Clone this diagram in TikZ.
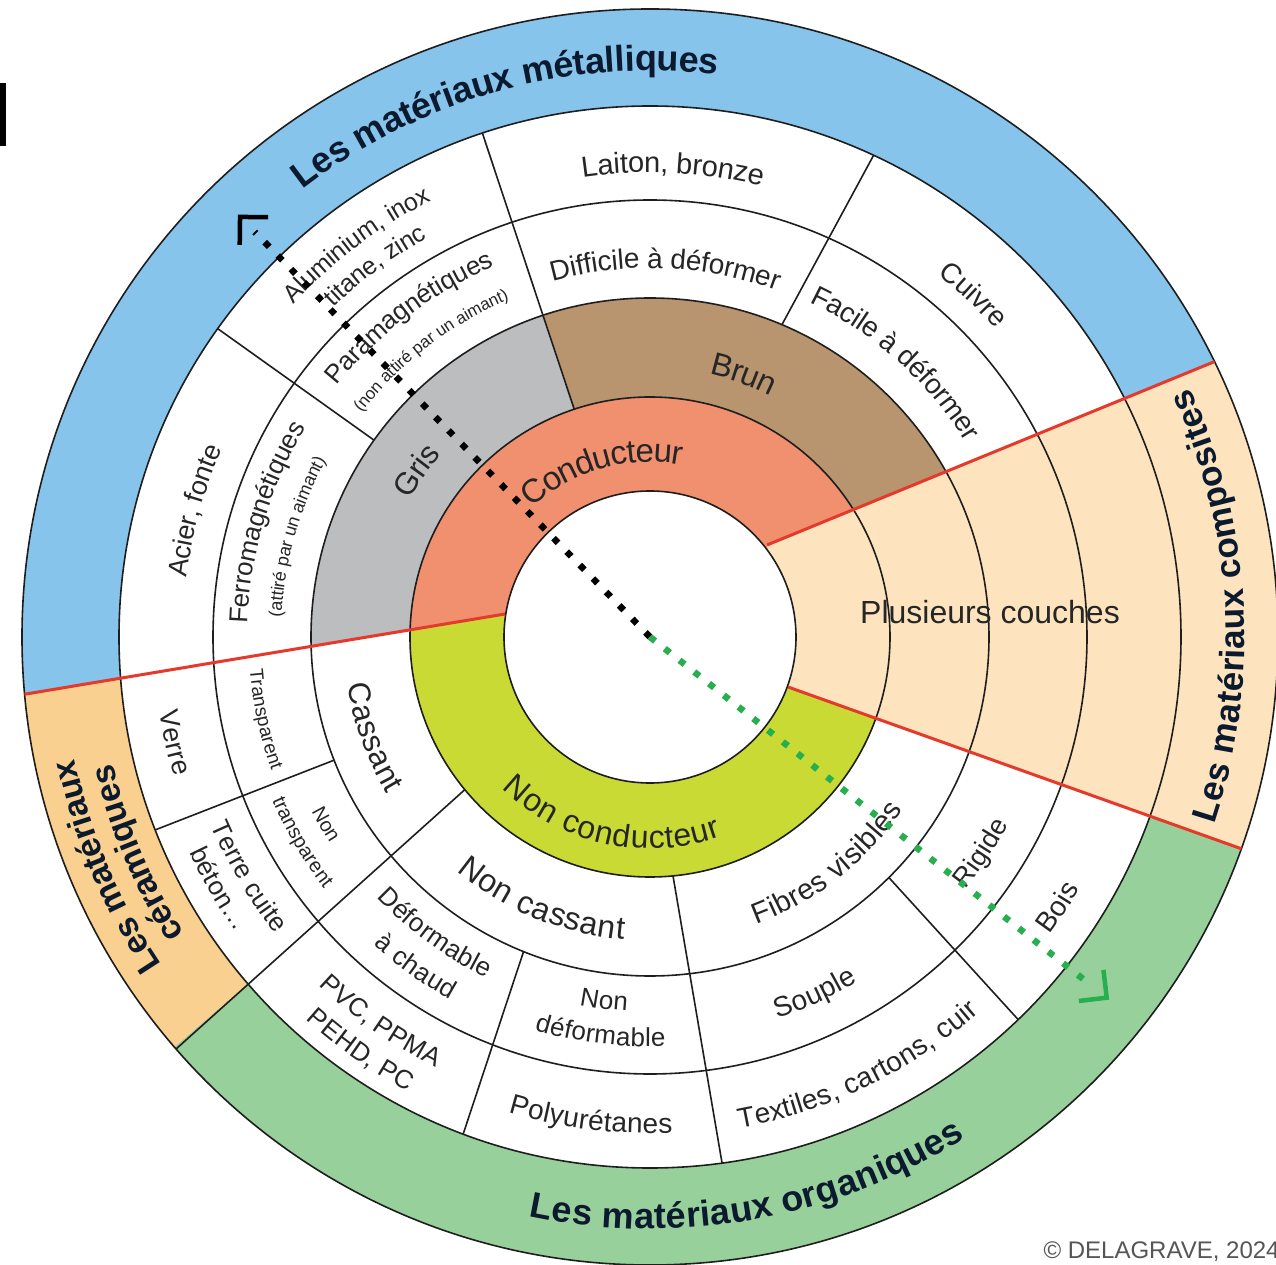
\documentclass[tikz,border=0pt]{standalone}
\usepackage{fontspec}
\setmainfont{Liberation Sans}
\usetikzlibrary{calc,decorations.text}
\definecolor{metal}{HTML}{86C4EC}
\definecolor{compo}{HTML}{FDE4BE}
\definecolor{ceram}{HTML}{F9D08F}
\definecolor{organ}{HTML}{97D09B}
\definecolor{cond}{HTML}{F0906F}
\definecolor{noncond}{HTML}{C9DA34}
\definecolor{brun}{HTML}{B8946F}
\definecolor{gris}{HTML}{BCBDBF}
\definecolor{redc}{HTML}{E5392B}
\definecolor{greenc}{HTML}{27AE4F}
\definecolor{linec}{HTML}{1E1E1E}
\definecolor{txt}{HTML}{262626}
\definecolor{navy}{HTML}{0B1A2E}
\definecolor{copyc}{HTML}{555555}
\newcommand{\mylab}[6]{%
  \pgfmathsetmacro{\myarcA}{#2+#3*70}%
  \pgfmathsetmacro{\myarcB}{#2-#3*70}%
  \pgfmathsetmacro{\myarcR}{-0.33*#4}%
  \path[decorate,decoration={text along path,text align=center,raise=\myarcR pt,
    text={|\fontsize{#4}{#4}\selectfont#5|#6}}]
    (\myarcA:#1) arc[start angle=\myarcA, end angle=\myarcB, radius=#1];%
}
\tikzset{
  ringline/.style={line width=1.6pt, draw=linec},
  divline/.style={line width=1.6pt, draw=linec},
  redline/.style={line width=3pt, draw=redc},
  bdots/.style={line width=6.5pt, draw=black, dash pattern=on 6.5pt off 12.3pt},
  gdots/.style={line width=6.5pt, draw=greenc, dash pattern=on 6.5pt off 12.3pt},
  bchev/.style={line width=4.5pt, draw=black, line join=miter},
  gchev/.style={line width=4.5pt, draw=greenc, line join=miter},
}
\begin{document}
\begin{tikzpicture}[x=1pt,y=1pt]
\useasboundingbox (-650,-628) rectangle (626,637);
\fill[white] (-650,-628) rectangle (626,637);
\coordinate (ctr) at (0,0);
\coordinate (P1a) at (-145,23); \coordinate (P1b) at (-630,-58);
\coordinate (P2a) at (117,92);  \coordinate (P2b) at (566,276);
\coordinate (P3a) at (138,-50); \coordinate (P3b) at (592,-212);
\coordinate (P1e) at ($(P1a)!1.6!(P1b)$);
\coordinate (P2e) at ($(P2a)!1.6!(P2b)$);
\coordinate (P3e) at ($(P3a)!1.6!(P3b)$);
% outer ring
\fill[metal] (ctr) circle (628);
\begin{scope}
  \clip (ctr) circle (628);
  \fill[ceram] (P1a) -- (P1e) -- (200:1100) -- (220.8:1100) -- (ctr) -- cycle;
  \fill[organ] (ctr) -- (220.8:1100) -- (260:1100) -- (300:1100) -- (P3e) -- (P3a) -- cycle;
\end{scope}
\fill[white] (ctr) circle (531);
% ring B
\begin{scope}
  \clip (ctr) circle (339);
  \fill[gris] (P1a) -- (P1e) -- (150:1100) -- (108.4:1100) -- (ctr) -- cycle;
  \fill[brun] (ctr) -- (108.4:1100) -- (80:1100) -- (50:1100) -- (P2e) -- (P2a) -- cycle;
\end{scope}
% ring A
\begin{scope}
  \clip (ctr) circle (240);
  \fill[cond] (ctr) circle (240);
  \fill[noncond] (P1a) -- (P1e) -- (200:1100) -- (270:1100) -- (330:1100) -- (P3e) -- (P3a) -- cycle;
\end{scope}
% composites
\begin{scope}
  \clip (ctr) circle (628);
  \fill[compo] (P2a) -- (P2e) -- (20:1100) -- (0:1100) -- (-20:1100) -- (P3e) -- (P3a) -- cycle;
\end{scope}
\fill[white] (ctr) circle (146);
% circles
\draw[ringline] (ctr) circle (146) (ctr) circle (240) (ctr) circle (339)
  (ctr) circle (437) (ctr) circle (531) (ctr) circle (628);
% dividers
\draw[divline] (108.4:240) -- (108.4:531);
\draw[divline] (144.5:339) -- (144.5:531);
\draw[divline] (67.1:339) -- (65.1:531);
\draw[divline] (201.3:339) -- (201.3:531);
\draw[divline] (219.5:240) -- (221:628);
\draw[divline] (248.1:339) -- (249.4:531);
\draw[divline] (275.5:240) -- (277.8:531);
\draw[divline] (314.8:339) -- (313.9:531);
% red lines
\begin{scope}
  \clip (ctr) circle (628);
  \draw[redline] (P1a) -- (P1e);
  \draw[redline] (P2a) -- (P2e);
  \draw[redline] (P3a) -- (P3e);
\end{scope}
% outer labels
\mylab{578}{105.5}{1}{36}{\bfseries\color{navy}}{Les matériaux métalliques}
\mylab{580}{280.2}{-1}{36}{\bfseries\color{navy}}{Les matériaux organiques}
\mylab{583}{3.2}{-1}{35}{\bfseries\color{navy}}{Les matériaux composites}
\mylab{599}{202.9}{1}{34}{\bfseries\color{navy}}{Les matériaux}
\mylab{563}{202.9}{1}{34}{\bfseries\color{navy}}{céramiques}
% ring D
\mylab{476}{164.5}{1}{27}{\color{txt}}{Acier, fonte}
\mylab{496}{126.8}{1}{25}{\color{txt}}{Aluminium, inox}
\mylab{465}{126.5}{1}{25}{\color{txt}}{titane, zinc}
\mylab{474}{87.2}{1}{29}{\color{txt}}{Laiton, bronze}
\mylab{472}{46.6}{1}{28}{\color{txt}}{Cuivre}
\mylab{487}{192.5}{-1}{27}{\color{txt}}{Verre}
\mylab{469}{210.8}{-1}{26}{\color{txt}}{Terre cuite}
\mylab{500}{210.3}{-1}{26}{\color{txt}}{béton…}
\mylab{472}{235}{-1}{26}{\color{txt}}{PVC, PPMA}
\mylab{506}{235}{-1}{26}{\color{txt}}{PEHD, PC}
\mylab{487}{263}{-1}{28}{\color{txt}}{Polyurétanes}
\mylab{490}{295.8}{-1}{28}{\color{txt}}{Textiles, cartons, cuir}
\mylab{489}{326.5}{-1}{28}{\color{txt}}{Bois}
% ring C
\mylab{411}{163.4}{1}{26}{\color{txt}}{Ferromagnétiques}
\mylab{375}{164.2}{1}{18}{\color{txt}}{(attiré par un aimant)}
\mylab{410}{127}{1}{26}{\color{txt}}{Paramagnétiques}
\mylab{371}{127.4}{1}{17}{\color{txt}}{(non attiré par un aimant)}
\mylab{378}{87.6}{1}{28}{\color{txt}}{Difficile à déformer}
\mylab{380}{48.1}{1}{28}{\color{txt}}{Facile à déformer}
\mylab{395}{192}{-1}{19}{\color{txt}}{Transparent}
\mylab{374}{210}{-1}{20}{\color{txt}}{Non}
\mylab{405}{210.5}{-1}{20}{\color{txt}}{transparent}
\mylab{369}{234}{-1}{26}{\color{txt}}{Déformable}
\mylab{405}{234.6}{-1}{26}{\color{txt}}{à chaud}
\mylab{366}{262.8}{-1}{26}{\color{txt}}{Non}
\mylab{401}{262.9}{-1}{26}{\color{txt}}{déformable}
\mylab{393}{294.8}{-1}{28}{\color{txt}}{Souple}
\mylab{395}{326.9}{-1}{27}{\color{txt}}{Rigide}
% ring B
\mylab{287}{144.5}{1}{31}{\color{txt}}{Gris}
\mylab{280}{70.3}{1}{32}{\color{txt}}{Brun}
\mylab{296}{199.9}{-1}{31}{\color{txt}}{Cassant}
\mylab{293}{247.7}{-1}{32}{\color{txt}}{Non cassant}
\mylab{297}{308}{-1}{29}{\color{txt}}{Fibres visibles}
% ring A
\mylab{186}{106}{1}{33}{\color{txt}}{Conducteur}
\mylab{201}{257.7}{-1}{32}{\color{txt}}{Non conducteur}
\node[text=txt, font=\fontsize{32}{32}\selectfont] (plus) at (340,25) {Plusieurs couches};
% dotted arrows
\coordinate (bend) at (134.3:566);
\coordinate (btip) at (134.3:587);
\coordinate (gend) at (-38.3:560);
\coordinate (gtip) at (-38.3:582);
\draw[bdots] (ctr) -- (bend);
\draw[gdots] (ctr) -- (gend);
\draw[bchev] ($(btip)+(269.3:28)$) -- (btip) -- ($(btip)+(359.3:28)$);
\draw[gchev] ($(gtip)+(96.7:28)$) -- (gtip) -- ($(gtip)+(186.7:28)$);
% marker and copyright
\fill[black] (-650,491) rectangle (-644,554);
\node[anchor=west, text=copyc, font=\fontsize{24}{24}\selectfont] (copy) at (390,-615) {© DELAGRAVE, 2024};
\end{tikzpicture}
\end{document}
